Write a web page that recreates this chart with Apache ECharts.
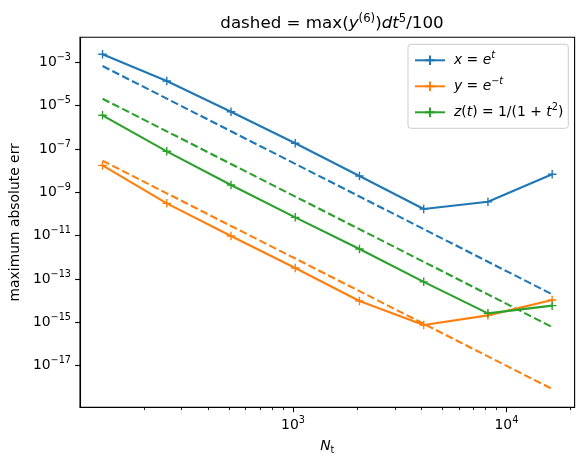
<!DOCTYPE html>
<html>
<head>
<meta charset="utf-8">
<script src="https://cdn.jsdelivr.net/npm/echarts@6/dist/echarts.min.js"></script>
<style>
html,body{margin:0;padding:0;background:#fff;}
#chart{width:584px;height:467px;}
</style>
</head>
<body>
<div id="chart"></div>
<script>
// ---- data ----
const Nt = [128, 256, 512, 1024, 2048, 4096, 8192, 16384];
const errX = [2.34e-3, 1.37e-4, 5.25e-6, 1.83e-7, 5.67e-9, 1.70e-10, 3.7e-10, 6.8e-9];
const errY = [1.75e-8, 3.1e-10, 9.6e-12, 3.2e-13, 9.7e-15, 7.5e-16, 2.1e-15, 1.07e-14];
const errZ = [3.58e-6, 7.8e-8, 2.18e-9, 7.0e-11, 2.42e-12, 7.4e-14, 2.6e-15, 5.9e-15];
const dashX = [6.75e-4, 2.11e-5, 6.59e-7, 2.06e-8, 6.43e-10, 2.01e-11, 6.28e-13, 1.96e-14];
const dashY = [2.88e-8, 9.0e-10, 2.81e-11, 8.8e-13, 2.75e-14, 8.6e-16, 2.68e-17, 8.4e-19];
const dashZ = [2.09e-5, 6.53e-7, 2.04e-8, 6.37e-10, 1.99e-11, 6.22e-13, 1.94e-14, 6.07e-16];
const xMajorTicks = [1e3, 1e4];
const xMinorTicks = [200, 300, 400, 500, 600, 700, 800, 900, 2000, 3000, 4000, 5000, 6000, 7000, 8000, 9000, 20000];
const yMajorTicks = [1e-17, 1e-15, 1e-13, 1e-11, 1e-9, 1e-7, 1e-5, 1e-3];
const seriesNames = ['x = e^t', 'y = e^-t', 'z(t) = 1/(1 + t^2)'];
const colors = ['#1f77b4', '#ff7f0e', '#2ca02c'];

const FONT = 'DejaVu Sans';
const plus = 'path://M0,5L10,5M5,0L5,10';

function pairs(ys){ return Nt.map((n, i) => [n, ys[i]]); }

function powLabel(v){
  const e = Math.round(Math.log10(v));
  return '{b|10}{s|' + (e < 0 ? '\u2212' : '') + Math.abs(e) + '}';
}
const tickRich = {
  b: {fontFamily: FONT, fontSize: 13.9, lineHeight: 20, color: '#000'},
  s: {fontFamily: FONT, fontSize: 9.7, verticalAlign: 'top', color: '#000'}
};

const legendFmt = {
  'x = e^t': '{i|x}{n| = }{i|e}{si|t}',
  'y = e^-t': '{i|y}{n| = }{i|e}{s|\u2212}{si|t}',
  'z(t) = 1/(1 + t^2)': '{i|z}{n|(}{i|t}{n|) = 1/(1 + }{i|t}{s|2}{n|)}'
};

function solid(name, ys, c){
  return {
    name: name, type: 'line', data: pairs(ys),
    symbol: plus, symbolSize: 8.5, showSymbol: true,
    itemStyle: {color: c, borderColor: c, borderWidth: 1.4},
    lineStyle: {color: c, width: 2.1},
    emphasis: {disabled: true}, animation: false, z: 3
  };
}
function dashed(name, ys, c){
  return {
    name: name, type: 'line', data: pairs(ys), symbol: 'none',
    lineStyle: {color: c, width: 2.1, type: [7.7, 3.3]},
    emphasis: {disabled: true}, animation: false, z: 2
  };
}

const chart = echarts.init(document.getElementById('chart'), null, {renderer: 'canvas'});
chart.setOption({
  backgroundColor: '#fff',
  animation: false,
  title: {
    text: '{n|dashed = max(}{i|y}{s|(6)}{n|)}{i|dt}{s|5}{n|/100}',
    left: 327, top: 8, textAlign: 'center',
    textStyle: {
      fontWeight: 'normal',
      rich: {
        n: {fontFamily: FONT, fontSize: 16.7, lineHeight: 22, fontWeight: 'normal', color: '#000'},
        i: {fontFamily: FONT, fontSize: 16.7, lineHeight: 22, fontStyle: 'italic', fontWeight: 'normal', color: '#000'},
        s: {fontFamily: FONT, fontSize: 11.7, verticalAlign: 'top', fontWeight: 'normal', color: '#000'}
      }
    }
  },
  legend: {
    data: seriesNames,
    orient: 'vertical',
    right: 15.7, top: 44.3,
    padding: [6, 5, 9, 6],
    itemGap: 9,
    itemWidth: 30, itemHeight: 12,
    backgroundColor: '#fff',
    borderColor: '#cccccc', borderWidth: 1, borderRadius: 3,
    formatter: function(name){ return legendFmt[name]; },
    textStyle: {
      padding: [0, 0, 0, 4],
      rich: {
        n: {fontFamily: FONT, fontSize: 13.9, lineHeight: 20, color: '#000'},
        i: {fontFamily: FONT, fontSize: 13.9, lineHeight: 20, fontStyle: 'italic', color: '#000'},
        s: {fontFamily: FONT, fontSize: 9.7, verticalAlign: 'top', color: '#000'},
        si: {fontFamily: FONT, fontSize: 9.7, verticalAlign: 'top', fontStyle: 'italic', color: '#000'}
      }
    }
  },
  grid: {
    left: 79.3, top: 37.3, width: 495.3, height: 370,
    show: true, borderColor: '#000', borderWidth: 1.1, backgroundColor: 'transparent'
  },
  xAxis: [{
    type: 'log', gridIndex: 0, position: 'bottom',
    min: 100.4, max: 20870,
    name: '{i|N}{s|t}', nameLocation: 'middle', nameGap: 30,
    nameTextStyle: {
      verticalAlign: 'top',
      rich: {
        i: {fontFamily: FONT, fontSize: 13.9, lineHeight: 18, fontStyle: 'italic', color: '#000'},
        s: {fontFamily: FONT, fontSize: 9.7, verticalAlign: 'bottom', color: '#000'}
      }
    },
    axisLine: {show: true, lineStyle: {color: '#000', width: 1.1}},
    axisTick: {show: true, inside: false, length: 4.9, lineStyle: {color: '#000', width: 1.1}, customValues: xMajorTicks},
    axisLabel: {show: true, margin: 8, customValues: xMajorTicks, formatter: powLabel, rich: tickRich},
    splitLine: {show: false}, minorTick: {show: false}, minorSplitLine: {show: false}
  }, {
    type: 'log', gridIndex: 0, position: 'bottom',
    min: 100.4, max: 20870,
    axisLine: {show: false},
    axisTick: {show: true, inside: false, length: 2.8, lineStyle: {color: '#000', width: 0.85}, customValues: xMinorTicks},
    axisLabel: {show: false},
    splitLine: {show: false}
  }],
  yAxis: [{
    type: 'log', gridIndex: 0, position: 'left',
    min: 1.2e-19, max: 1.426e-2,
    name: 'maximum absolute err', nameLocation: 'middle', nameGap: 56,
    nameTextStyle: {fontFamily: FONT, fontSize: 13.9, color: '#000'},
    axisLine: {show: true, lineStyle: {color: '#000', width: 1.1}},
    axisTick: {show: true, inside: false, length: 4.9, lineStyle: {color: '#000', width: 1.1}, customValues: yMajorTicks},
    axisLabel: {show: true, margin: 9, customValues: yMajorTicks, formatter: powLabel, rich: tickRich},
    splitLine: {show: false}, minorTick: {show: false}
  }],
  series: [
    solid(seriesNames[0], errX, colors[0]),
    dashed('dash x', dashX, colors[0]),
    solid(seriesNames[1], errY, colors[1]),
    dashed('dash y', dashY, colors[1]),
    solid(seriesNames[2], errZ, colors[2]),
    dashed('dash z', dashZ, colors[2])
  ]
});
</script>
</body>
</html>
